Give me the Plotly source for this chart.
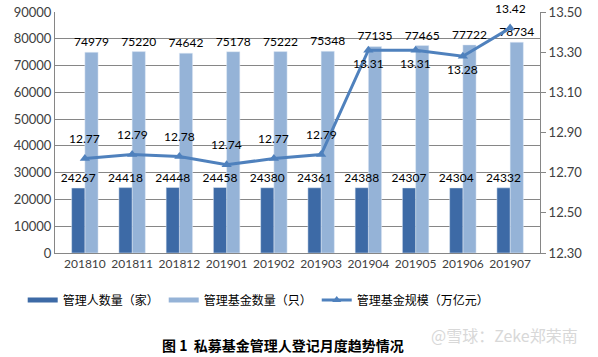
import plotly.graph_objects as go

months = ["201810", "201811", "201812", "201901", "201902", "201903",
          "201904", "201905", "201906", "201907"]
managers = [24267, 24418, 24448, 24458, 24380, 24361, 24388, 24307, 24304, 24332]
funds = [74979, 75220, 74642, 75178, 75222, 75348, 77135, 77465, 77722, 78734]
scale = [12.77, 12.79, 12.78, 12.74, 12.77, 12.79, 13.31, 13.31, 13.28, 13.42]
scale_below = [False] * 6 + [True] * 3 + [False]

left_ticks = list(range(0, 90001, 10000))
right_ticks = [12.30, 12.50, 12.70, 12.90, 13.10, 13.30, 13.50]

dark = "#3d6aa6"
light = "#95b3d7"
line_c = "#4f81bd"
num_font = dict(family="Lato, Liberation Sans, sans-serif", size=12, color="#000000")
tick_font = dict(family="Lato, Liberation Sans, sans-serif", size=13, color="#404040")
x_font = dict(family="Lato, Liberation Sans, sans-serif", size=12, color="#404040")
cjk = "Noto Sans CJK SC"

BW = 0.28  # width of one bar in category units

fig = go.Figure()
# light bars first so that dark-bar labels are drawn on top of them
fig.add_trace(go.Bar(
    x=months, y=funds, name="管理基金数量（只）", marker_color=light,
    width=BW, offset=0.0,
    text=[str(v) for v in funds], textposition="outside", textfont=num_font,
    constraintext="none", textangle=0, cliponaxis=False, showlegend=False))
fig.add_trace(go.Bar(
    x=months, y=managers, name="管理人数量（家）", marker_color=dark,
    width=BW, offset=-BW,
    text=[str(v) for v in managers], textposition="outside", textfont=num_font,
    constraintext="none", textangle=0, cliponaxis=False, showlegend=False))
fig.add_trace(go.Scatter(
    x=months, y=scale, name="管理基金规模（万亿元）", yaxis="y2",
    mode="lines+markers", line=dict(color=line_c, width=3),
    marker=dict(symbol="triangle-up", size=9, color=line_c),
    cliponaxis=False, showlegend=False))

# legend entries (bar swatches drawn as thick short lines)
fig.add_trace(go.Scatter(x=[months[0]], y=[None], mode="lines", name="管理人数量（家）",
                         line=dict(color=dark, width=5)))
fig.add_trace(go.Scatter(x=[months[0]], y=[None], mode="lines", name="管理基金数量（只）",
                         line=dict(color=light, width=5)))
fig.add_trace(go.Scatter(x=[months[0]], y=[None], mode="lines+markers",
                         name="管理基金规模（万亿元）", yaxis="y2",
                         line=dict(color=line_c, width=3),
                         marker=dict(symbol="triangle-up", size=8, color=line_c)))

annotations = []
for i, (v, below) in enumerate(zip(scale, scale_below)):
    annotations.append(dict(
        x=i, y=v, xref="x", yref="y2", text=f"{v:.2f}", showarrow=False,
        yshift=-13 if below else 20, font=num_font, xanchor="center", yanchor="middle"))

annotations += [
    dict(text="<b>图 1  私募基金管理人登记月度趋势情况</b>", xref="paper", yref="paper",
         x=0.47, y=-0.38, xanchor="center", yanchor="middle", showarrow=False,
         font=dict(family=cjk, size=14, color="#000000")),
    dict(text="@雪球：Zeke郑荣南", xref="paper", yref="paper",
         x=1.082, y=-0.34, xanchor="right", yanchor="middle", showarrow=False,
         font=dict(family=cjk, size=16, color="#d8d8d8")),
]

fig.update_layout(
    width=598, height=357,
    margin=dict(l=55, r=58, t=12, b=104, autoexpand=False),
    paper_bgcolor="white", plot_bgcolor="white",
    barmode="overlay",
    showlegend=True,
    legend=dict(orientation="h", x=0.42, xanchor="center", y=-0.195, yanchor="middle",
                font=dict(family=cjk, size=12, color="#000000"),
                traceorder="normal", bgcolor="rgba(0,0,0,0)"),
    xaxis=dict(type="category", categoryorder="array", categoryarray=months,
               showline=True, linecolor="#868686", ticks="",
               tickfont=x_font, showgrid=False, tickangle=0, automargin=False),
    yaxis=dict(range=[0, 90000], tickvals=left_ticks, ticktext=[str(v) for v in left_ticks],
               showgrid=True, gridcolor="#868686", gridwidth=1, showline=True,
               linecolor="#868686", tickfont=tick_font, zeroline=False, automargin=False),
    yaxis2=dict(range=[12.3, 13.5], tickvals=right_ticks,
                ticktext=[f"{v:.2f}" for v in right_ticks], overlaying="y", side="right",
                showgrid=False, showline=True, linecolor="#868686", ticks="outside",
                ticklen=5, tickcolor="#868686", tickfont=tick_font, zeroline=False,
                automargin=False),
    annotations=annotations,
)

fig.write_html("out.html", config={"displayModeBar": False},
               post_script="document.body.style.margin='0px';")
